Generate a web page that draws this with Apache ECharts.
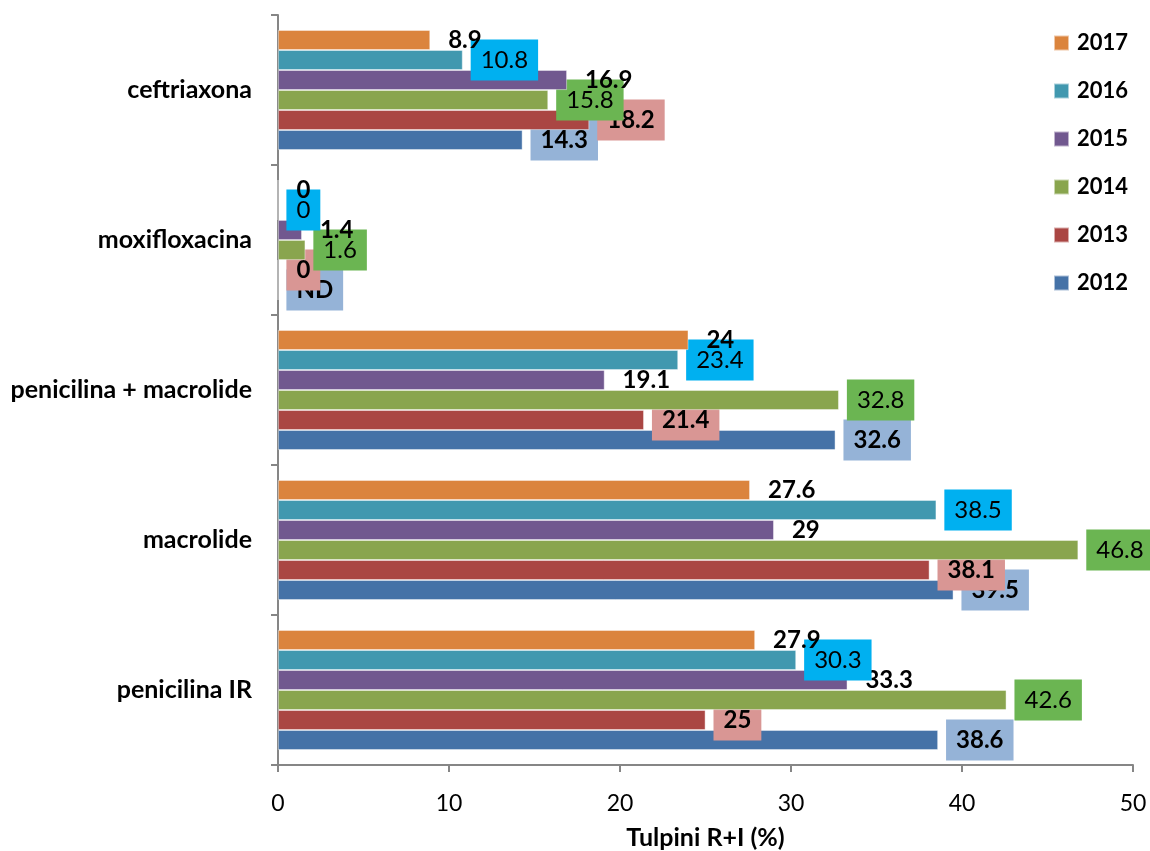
<!DOCTYPE html>
<html>
<head>
<meta charset="utf-8">
<script src="https://cdn.jsdelivr.net/npm/echarts@6/dist/echarts.min.js"></script>
<style>
  html, body { margin: 0; padding: 0; background: #ffffff; }
  #chart { width: 1150px; height: 851px; }
</style>
</head>
<body>
<div id="chart"></div>
<script>
// Categories listed bottom to top along the vertical axis
const categories = ['penicilina IR', 'macrolide', 'penicilina + macrolide', 'moxifloxacina', 'ceftriaxona'];

// Resistance (R+I, %) per year, same order as categories
const v2012 = [38.6, 39.5, 32.6, 0, 14.3];
const v2013 = [25, 38.1, 21.4, 0, 18.2];
const v2014 = [42.6, 46.8, 32.8, 1.6, 15.8];
const v2015 = [33.3, 29, 19.1, 1.4, 16.9];
const v2016 = [30.3, 38.5, 23.4, 0, 10.8];
const v2017 = [27.9, 27.6, 24, 0, 8.9];

// Categories without data for a given year (shown as "ND")
const notDetermined2012 = ['moxifloxacina'];

// Value axis
const xMin = 0;
const xMax = 50;
const xStep = 10;

// Newest year first: it is drawn at the top of each group
const years = ['2017', '2016', '2015', '2014', '2013', '2012'];
const values = [v2017, v2016, v2015, v2014, v2013, v2012];
const noData = [[], [], [], [], [], notDetermined2012];

const FONT = 'Lato';
const barColors = ['#DB843D', '#4198AF', '#71588F', '#89A54E', '#AA4643', '#4572A7'];
const labelBoxes = [null, '#00B0F0', null, '#6BB552', '#D99694', '#95B3D7'];
const labelWeights = ['bold', 'normal', 'bold', 'normal', 'bold', 'bold'];

const series = years.map((year, i) => ({
  name: year,
  type: 'bar',
  barGap: '0%',
  barCategoryGap: '20%',
  z: 2 + (years.length - i),
  itemStyle: {
    color: barColors[i],
    borderColor: 'rgba(255,255,255,0.55)',
    borderWidth: 0.8
  },
  label: {
    show: true,
    position: 'right',
    distance: 8,
    color: '#000',
    fontFamily: FONT,
    fontSize: 24,
    fontWeight: labelWeights[i],
    lineHeight: 23,
    padding: [9, 10, 9, 10],
    backgroundColor: labelBoxes[i] || 'transparent'
  },
  data: values[i].map((v, j) =>
    noData[i].includes(categories[j])
      ? { value: v, label: { formatter: 'ND' } }
      : v
  )
}));

const chart = echarts.init(document.getElementById('chart'), null, { renderer: 'canvas' });
chart.setOption({
  backgroundColor: '#ffffff',
  animation: false,
  grid: { left: 278, right: 17, top: 15, bottom: 86, containLabel: false, outerBoundsMode: 'none' },
  legend: {
    orient: 'vertical',
    left: 1048,
    top: 27,
    icon: 'rect',
    itemWidth: 15,
    itemHeight: 15,
    itemGap: 26,
    data: years,
    textStyle: {
      fontFamily: FONT,
      fontSize: 22,
      fontWeight: 'bold',
      color: '#000',
      lineHeight: 22,
      padding: [0, 0, 0, 3]
    }
  },
  xAxis: {
    type: 'value',
    min: xMin,
    max: xMax,
    interval: xStep,
    name: 'Tulpini R+I (%)',
    nameLocation: 'middle',
    nameGap: 60,
    nameTextStyle: { fontFamily: FONT, fontSize: 25, fontWeight: 'bold', color: '#000' },
    axisLine: { show: true, lineStyle: { color: '#868686', width: 2 } },
    axisTick: { show: true, length: 7, lineStyle: { color: '#868686', width: 2 } },
    axisLabel: { fontFamily: FONT, fontSize: 23, color: '#000', margin: 27 },
    splitLine: { show: false }
  },
  yAxis: {
    type: 'category',
    data: categories,
    axisLine: { show: true, lineStyle: { color: '#868686', width: 2 } },
    axisTick: { show: true, length: 7, lineStyle: { color: '#868686', width: 2 } },
    axisLabel: { fontFamily: FONT, fontSize: 25, fontWeight: 'bold', color: '#000', margin: 26 },
    splitLine: { show: false }
  },
  series: series
});
</script>
</body>
</html>
